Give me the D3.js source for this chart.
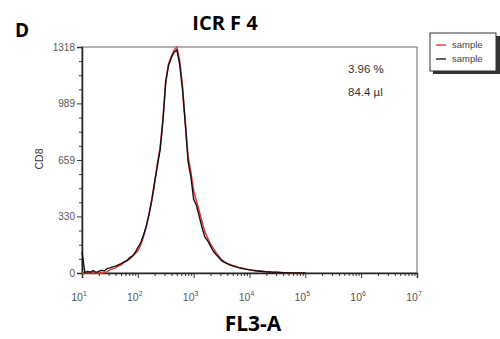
<!DOCTYPE html>
<html>
<head>
<meta charset="utf-8">
<script src="https://cdn.jsdelivr.net/npm/d3@7"></script>
<style>
  body { margin: 0; background: #fff; }
  svg { font-family: "Liberation Sans", Arial, sans-serif; }
</style>
</head>
<body>
<svg id="chart" width="500" height="339"></svg>
<script>
// log10 of FL3-A at each histogram bin
const logBins = [1.00,1.05,1.10,1.15,1.20,1.25,1.30,1.35,1.40,1.45,1.50,1.55,1.60,1.65,1.70,1.75,1.80,1.85,1.90,1.95,
  2.00,2.05,2.10,2.15,2.20,2.25,2.30,2.35,2.40,2.45,2.50,2.55,2.60,2.65,2.70,2.75,2.80,2.85,2.90,2.95,
  3.00,3.05,3.10,3.15,3.20,3.25,3.30,3.35,3.40,3.45,3.50,3.55,3.60,3.65,3.70,3.75,3.80,3.85,3.90,3.95,
  4.00,4.05,4.10,4.15,4.20,4.25,4.30,4.35,4.40,4.45,4.50,4.55,4.60,4.65,4.70,4.75,4.80,4.85,4.90,4.95,5.00];

const redCounts = [0,0,0,0,0,0,0,0,0,8,18,24,30,40,48,62,70,80,96,112,
  128,162,210,268,345,420,520,640,735,900,1110,1220,1262,1300,1318,1240,1090,880,680,590,
  480,420,360,300,240,205,170,145,120,98,78,66,56,50,44,40,34,30,26,22,
  19,17,15,13,11,9,8,7,5,4,3,3,2,2,1,1,0,0,0,0,0];

const blackCounts = [125,4,9,5,14,4,9,16,12,26,30,36,40,48,55,64,72,88,98,118,
  148,175,220,272,340,428,530,625,720,890,1120,1210,1255,1288,1300,1215,1070,870,650,560,
  430,395,330,265,210,188,158,128,108,90,72,62,54,46,42,36,31,28,24,21,
  18,15,13,12,10,9,7,6,5,4,4,3,2,2,1,1,0,0,0,0,0];

const yTicks = [0, 330, 659, 989, 1318];
const xDecades = [1, 2, 3, 4, 5, 6, 7];
const legendItems = [{name: "sample", color: "#e0383a"}, {name: "sample", color: "#222"}];
const statLines = ["3.96 %", "84.4 \u00b5l"];

const svg = d3.select("#chart");
const plotL = 82, plotR = 417, plotT = 47, plotB = 273;

const x = d3.scaleLinear().domain([1, 7]).range([plotL, plotR]);
const y = d3.scaleLinear().domain([0, 1318]).range([plotB, plotT]);

// plot frame
svg.append("rect")
  .attr("x", plotL).attr("y", plotT)
  .attr("width", plotR - plotL).attr("height", plotB - plotT)
  .attr("fill", "none").attr("stroke", "#666").attr("stroke-width", 1);

// y axis with minor ticks
const yMinor = [];
for (let i = 0; i < yTicks.length - 1; i++) {
  const step = (yTicks[i + 1] - yTicks[i]) / 4;
  for (let k = 1; k < 4; k++) yMinor.push(yTicks[i] + step * k);
}
svg.append("g")
  .attr("transform", `translate(${plotL},0)`)
  .call(d3.axisLeft(y).tickValues(yMinor).tickSize(3).tickFormat(""))
  .call(g => g.select(".domain").remove())
  .call(g => g.selectAll("line").attr("stroke", "#333"));
const yAxis = svg.append("g")
  .attr("transform", `translate(${plotL},0)`)
  .call(d3.axisLeft(y).tickValues(yTicks).tickSize(5).tickPadding(2).tickFormat(d3.format("d")))
  .call(g => g.select(".domain").attr("stroke", "#222").attr("stroke-width", 1.5));
yAxis.selectAll("line").attr("stroke", "#333");
yAxis.selectAll("text")
  .attr("font-size", 10).attr("fill", "#555")
  .attr("font-family", "'Liberation Sans Narrow', 'Liberation Sans', sans-serif");

// x axis: log decades with minor ticks
const xMinor = [];
xDecades.slice(0, -1).forEach(d => {
  for (let m = 2; m < 10; m++) xMinor.push(d + Math.log10(m));
});
svg.append("g")
  .attr("transform", `translate(0,${plotB})`)
  .call(d3.axisBottom(x).tickValues(xMinor).tickSize(3).tickFormat(""))
  .call(g => g.select(".domain").remove())
  .call(g => g.selectAll("line").attr("stroke", "#333"));
const xAxis = svg.append("g")
  .attr("transform", `translate(0,${plotB})`)
  .call(d3.axisBottom(x).tickValues(xDecades).tickSize(5).tickFormat(""))
  .call(g => g.select(".domain").attr("stroke", "#222").attr("stroke-width", 1.5));
xAxis.selectAll("line").attr("stroke", "#333");

const xLabels = svg.append("g").selectAll("text")
  .data(xDecades).enter().append("text")
  .attr("x", d => x(d) - 3).attr("y", 301)
  .attr("text-anchor", "middle")
  .attr("font-size", 10.5).attr("fill", "#555");
xLabels.append("tspan").text("10");
xLabels.append("tspan").attr("dy", -5).attr("font-size", 7).text(d => d);

// histogram lines
const line = d3.line()
  .x((d, i) => x(logBins[i]))
  .y(d => y(d));

svg.append("path")
  .datum(redCounts)
  .attr("fill", "none").attr("stroke", "#e0383a").attr("stroke-width", 1.5)
  .attr("d", line);
svg.append("path")
  .datum(blackCounts)
  .attr("fill", "none").attr("stroke", "#111").attr("stroke-width", 1.4)
  .attr("d", line);

// stats text
svg.selectAll(".stat")
  .data(statLines).enter().append("text")
  .attr("class", "stat")
  .attr("x", 348).attr("y", (d, i) => 73 + i * 23)
  .attr("font-size", 11.5).attr("fill", "#333")
  .text(d => d);

// legend with shadow
const lg = svg.append("g");
lg.append("rect").attr("x", 433).attr("y", 36).attr("width", 67).attr("height", 38).attr("fill", "#333");
lg.append("rect").attr("x", 430).attr("y", 33).attr("width", 66).attr("height", 38)
  .attr("fill", "#fff").attr("stroke", "#333");
legendItems.forEach((d, i) => {
  lg.append("line")
    .attr("x1", 436).attr("x2", 446)
    .attr("y1", 45 + i * 14).attr("y2", 45 + i * 14)
    .attr("stroke", d.color).attr("stroke-width", 1.4);
  lg.append("text")
    .attr("x", 452).attr("y", 48 + i * 14)
    .attr("font-size", 9.5).attr("fill", "#444")
    .text(d.name);
});

// titles
svg.append("text").attr("x", 15).attr("y", 37)
  .attr("font-size", 19).attr("font-weight", "bold")
  .attr("font-family", "'Open Sans', sans-serif").text("D");
svg.append("text").attr("x", 225).attr("y", 30).attr("text-anchor", "middle")
  .attr("font-size", 20).attr("font-weight", "bold")
  .attr("font-family", "'Open Sans', sans-serif").text("ICR F 4");
svg.append("text").attr("x", 253).attr("y", 331).attr("text-anchor", "middle")
  .attr("font-size", 21).attr("font-weight", "bold")
  .attr("font-family", "'Open Sans', sans-serif").text("FL3-A");
svg.append("text")
  .attr("transform", "translate(43,159) rotate(-90)")
  .attr("text-anchor", "middle")
  .attr("font-size", 10.5).attr("fill", "#333").text("CD8");
</script>
</body>
</html>
